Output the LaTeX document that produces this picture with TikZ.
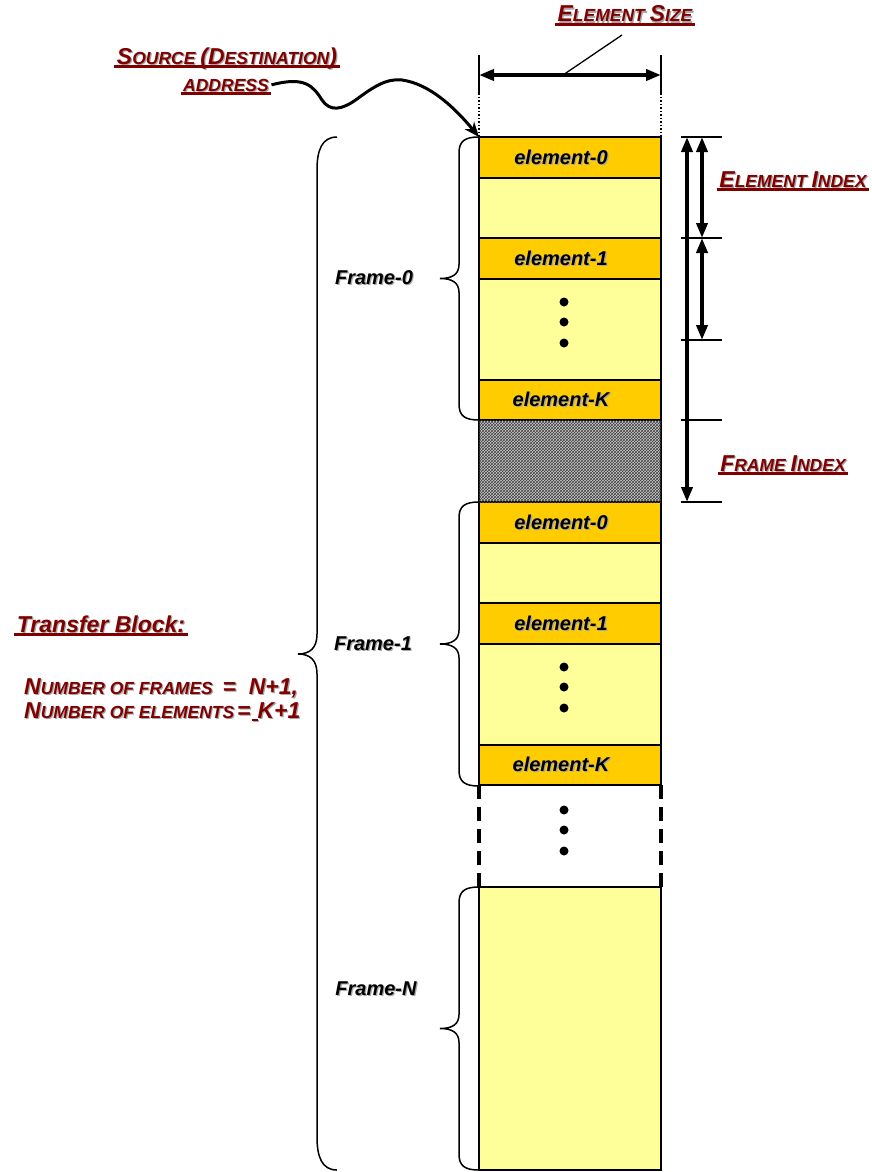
\documentclass[tikz,border=0pt]{standalone}
\usepackage{fontspec}
\setmainfont{Liberation Sans}
\usetikzlibrary{arrows.meta, positioning, patterns}
\definecolor{dred}{RGB}{128,0,0}
\definecolor{elemcol}{RGB}{255,204,0}
\definecolor{gapcol}{RGB}{255,255,153}
\newcommand\shad[1]{\makebox[0pt][l]{\kern1.2pt\raisebox{-1.2pt}{\color{black!35}#1}}#1}
\newcommand\Bc[1]{{\fontsize{23}{26}\selectfont #1}}
\tikzstyle{ebox} = [draw, line width=1.5pt, fill=elemcol, minimum width=182pt, minimum height=41pt, inner sep=0pt, outer sep=0pt]
\tikzstyle{gbox} = [draw, line width=1.5pt, fill=gapcol, minimum width=182pt, inner sep=0pt, outer sep=0pt]
\tikzstyle{hbox} = [draw, line width=1.5pt, fill=gray!40, postaction={pattern=crosshatch, pattern color=black!75}, minimum width=182pt, minimum height=82pt, inner sep=0pt, outer sep=0pt]
\tikzstyle{etxt} = [font=\fontsize{20}{24}\selectfont\bfseries\itshape, inner sep=0pt]
\tikzstyle{rtxt} = [text=dred, font=\fontsize{17.5}{21}\selectfont\bfseries\itshape, inner sep=0pt]
\tikzstyle{rlbl} = [text=dred, font=\fontsize{17.5}{21}\selectfont\bfseries\itshape, inner sep=2.5pt, text depth=0pt, append after command={(\tikzlastnode.south west) edge[draw=dred, line width=2.5pt] (\tikzlastnode.south east)}]
\tikzstyle{dimarr} = [line width=4pt, >={Triangle[length=15pt,width=11pt]}, <->]
\tikzstyle{tick} = [line width=1.3pt]
\tikzstyle{brc} = [line width=1.5pt]

\begin{document}
\begin{tikzpicture}[x=1pt, y=-1pt]
	\useasboundingbox (0,0) rectangle (871,1172);

	% frames 0 and 1
	\foreach \f/\t in {0/137, 1/502}{
		\node [ebox, anchor=north west] (e0-\f) at (479,\t) {};
		\node [gbox, minimum height=60pt, below=0pt of e0-\f] (g0-\f) {};
		\node [ebox, below=0pt of g0-\f] (e1-\f) {};
		\node [gbox, minimum height=101pt, below=0pt of e1-\f] (g1-\f) {};
		\node [ebox, minimum height=40pt, below=0pt of g1-\f] (eK-\f) {};
		\node [etxt] (t0-\f) at ([xshift=-9pt]e0-\f.center) {\shad{element-0}};
		\node [etxt] (t1-\f) at ([xshift=-9pt]e1-\f.center) {\shad{element-1}};
		\node [etxt] (tK-\f) at ([xshift=-9pt]eK-\f.center) {\shad{element-K}};
	}
	\node [hbox, below=0pt of eK-0] (hatch) {};
	\node [gbox, anchor=north west, minimum height=283pt] (fN) at (479,887) {};

	% gap between frame 1 and frame N
	\draw [line width=4pt, dash pattern=on 14pt off 8pt] (eK-1.south west) -- (fN.north west);
	\draw [line width=4pt, dash pattern=on 14pt off 8pt] (eK-1.south east) -- (fN.north east);

	\foreach \y in {302,322,343,667,687,708,810,830,851}
		\fill (564,\y) circle (4.5pt);

	% braces
	\foreach \t/\b in {137/420, 502/786, 887/1170}{
		\pgfmathsetmacro\m{(\t+\b)/2}
		\draw [brc] (479,\t) .. controls (465,\t) and (459,\t+4) .. (459,\t+16) -- (459,\m-14)
			.. controls (459,\m-4) and (452,\m) .. (440,\m)
			.. controls (452,\m) and (459,\m+4) .. (459,\m+14) -- (459,\b-16)
			.. controls (459,\b-4) and (465,\b) .. (479,\b);
	}
	\draw [brc] (337,137) .. controls (322,137) and (317,150) .. (317,170) -- (317,634)
		.. controls (317,648) and (310,654) .. (298,654)
		.. controls (310,654) and (317,660) .. (317,674) -- (317,1137)
		.. controls (317,1157) and (322,1170) .. (337,1170);

	\node [etxt] (fr0) at (374,278) {\shad{Frame-0}};
	\node [etxt] (fr1) at (373,644) {\shad{Frame-1}};
	\node [etxt] (frN) at (376,989) {\shad{Frame-N}};

	% element size
	\draw [line width=1.3pt] (479,55) -- (479,93);
	\draw [line width=1.3pt] (661,55) -- (661,93);
	\draw [dotted, line width=1.5pt] (479,93) -- (e0-0.north west);
	\draw [dotted, line width=1.5pt] (661,93) -- (e0-0.north east);
	\coordinate (es1) at (479,75);
	\coordinate (es2) at (661,75);
	\draw [dimarr] (es1) -- (es2);
	\node [rlbl, anchor=base] (esize) at (625,22) {\shad{\Bc{E}LEMENT \Bc{S}IZE}};
	\coordinate (esmid) at (563,75);
	\coordinate (eslbl) at (622,35);
	\draw [line width=1.3pt] (esmid) -- (eslbl);

	% source address
	\node [rlbl, anchor=base] (src) at (227,64) {\shad{\Bc{S}OURCE \Bc{(D}ESTINATION\Bc{)}}};
	\node [rlbl, anchor=base] (addr) at (226,91) {\shad{ADDRESS}};
	\draw [line width=3pt, -{Stealth[length=15pt,width=12pt]}] (addr.east)
		.. controls (305,76) and (313,86) .. (322,100)
		.. controls (330,112) and (342,110) .. (357,99)
		.. controls (372,88) and (386,78) .. (402,80)
		.. controls (430,84) and (455,108) .. (e0-0.north west);

	% index dimensions
	\foreach \y in {137,238,340,420,502}
		\draw [tick] (681,\y) -- (722,\y);
	\coordinate (fi1) at (687,137);
	\coordinate (fi2) at (687,502);
	\coordinate (ei1) at (702,137);
	\coordinate (ei2) at (702,238);
	\coordinate (ei3) at (702,340);
	\draw [dimarr] (fi1) -- (fi2);
	\draw [dimarr] (ei1) -- (ei2);
	\draw [dimarr] (ei2) -- (ei3);
	\node [rlbl, anchor=base] (eidx) at (793,187) {\shad{\Bc{E}LEMENT \Bc{I}NDEX}};
	\node [rlbl, anchor=base] (fidx) at (783,471) {\shad{\Bc{F}RAME \Bc{I}NDEX}};

	% transfer block
	\node [rlbl, font=\fontsize{23}{26}\selectfont\bfseries\itshape, anchor=base] (tb) at (101,632) {\shad{Transfer Block:}};
	\node [rtxt, anchor=base west] (nfr) at (24,694) {\shad{\Bc{N}UMBER OF FRAMES\ \ \Bc{=\ \ N+1,}}};
	\node [rtxt, anchor=base west] (nel) at (24,718) {\shad{\Bc{N}UMBER OF ELEMENTS\,\Bc{=}\kern1pt\rule[-3pt]{6pt}{2pt}\Bc{K+1}}};
\end{tikzpicture}
\end{document}
